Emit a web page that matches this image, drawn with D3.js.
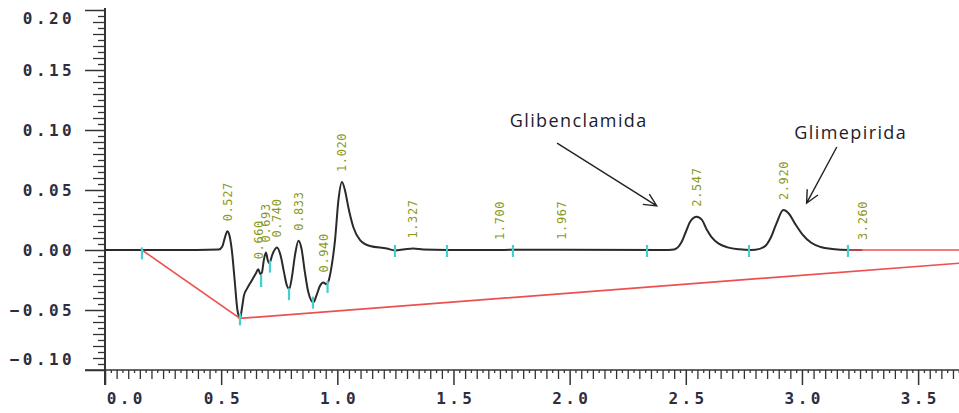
<!DOCTYPE html>
<html>
<head>
<meta charset="utf-8">
<script src="https://cdn.jsdelivr.net/npm/d3@7"></script>
<style>
  html, body { margin: 0; padding: 0; background: #fff; }
  svg { display: block; }
  .tick-label { font-family: "DejaVu Sans Mono", monospace; font-weight: bold; font-size: 16px; fill: #2d2d3d; letter-spacing: 3.4px; }
  .peak-label { font-family: "DejaVu Sans Mono", monospace; font-size: 12px; fill: #8a9a1e; letter-spacing: 0.6px; }
  .note { font-family: "Open Sans", "Noto Sans", sans-serif; font-size: 18px; fill: #1c1c2c; letter-spacing: 1.4px; }
</style>
</head>
<body>
<svg id="chart" width="959" height="413"></svg>
<script>
// Chromatogram trace: [retention time (min), signal (AU)]
const trace = [
  [0.00, 0], [0.30, 0], [0.49, 0.0005], [0.505, 0.003], [0.517, 0.011], [0.527, 0.0156],
  [0.537, 0.011], [0.547, -0.002], [0.558, -0.025], [0.570, -0.050], [0.581, -0.057],
  [0.590, -0.048], [0.598, -0.038], [0.612, -0.032], [0.630, -0.026], [0.648, -0.020],
  [0.660, -0.016], [0.668, -0.020], [0.675, -0.019], [0.684, -0.008], [0.693, -0.002],
  [0.700, -0.008], [0.708, -0.011], [0.720, -0.004], [0.740, 0.002], [0.755, -0.004],
  [0.770, -0.018], [0.782, -0.029], [0.793, -0.0325], [0.805, -0.022], [0.818, -0.004],
  [0.833, 0.0078], [0.846, 0.001], [0.860, -0.018], [0.875, -0.035], [0.897, -0.0436],
  [0.910, -0.038], [0.925, -0.030], [0.940, -0.027], [0.952, -0.0285], [0.960, -0.027],
  [0.975, -0.014], [0.990, 0.008], [1.005, 0.042], [1.020, 0.0567], [1.035, 0.048],
  [1.047, 0.036], [1.069, 0.019], [1.098, 0.0083], [1.141, 0.0033], [1.213, 0.0012],
  [1.248, -0.0004], [1.29, 0.0006], [1.327, 0.0012], [1.37, 0.0004], [1.47, 0],
  [1.967, 0.0002], [2.40, 0], [2.45, 0.0005], [2.48, 0.006], [2.50, 0.015], [2.52, 0.024],
  [2.547, 0.0278], [2.57, 0.025], [2.59, 0.017], [2.61, 0.011], [2.64, 0.0055],
  [2.68, 0.0022], [2.73, 0.0006], [2.78, 0.0001], [2.80, 0.0002], [2.84, 0.003],
  [2.865, 0.010], [2.89, 0.022], [2.92, 0.0333], [2.945, 0.030], [2.97, 0.022],
  [3.00, 0.0135], [3.04, 0.006], [3.08, 0.0025], [3.13, 0.0008], [3.20, 0], [3.26, 0]
];

// Integrated peaks: retention time and apex signal
const peakRT     = [0.527, 0.660, 0.693, 0.740, 0.833, 0.940, 1.020, 1.327, 1.700, 1.967, 2.547, 2.920, 3.260];
const peakHeight = [0.0156, -0.016, -0.002, 0.002, 0.0078, -0.027, 0.0567, 0.0012, 0, 0.0002, 0.0278, 0.0333, 0];

// Integration event marks (peak start / end)
const markT = [0.159, 0.581, 0.672, 0.710, 0.792, 0.895, 0.958, 1.248, 1.472, 1.756, 2.333, 2.772, 3.198];
const markV = [-0.002, -0.057, -0.025, -0.013, -0.036, -0.043, -0.030, 0, 0, 0, 0, 0, 0];

// Drawn baselines
const baselineLow  = [[0.159, 0], [0.581, -0.057], [3.676, -0.011]];
const baselineTail = [[3.198, 0], [3.676, 0]];

// Axis tick labels
const xTicks = [0.0, 0.5, 1.0, 1.5, 2.0, 2.5, 3.0, 3.5];
const yTicks = [-0.10, -0.05, 0.00, 0.05, 0.10, 0.15, 0.20];

// Compound annotations (text centre and arrow, in data units)
const notes = [
  { text: "Glibenclamida", t: 2.036, v: 0.1075, from: [1.946, 0.089], to: [2.375, 0.0367] },
  { text: "Glimepirida",   t: 3.207, v: 0.0975, from: [3.150, 0.0858], to: [3.020, 0.039] }
];

const svg = d3.select("#chart");
const x = d3.scaleLinear().domain([0, 3.676]).range([105, 959]);
const y = d3.scaleLinear().domain([-0.10, 0.20]).range([370, 10]);
const axisColor = "#333";

// Minor ticks
const yMinor = d3.range(-20, 41).filter(i => i % 10 !== 0).map(i => i * 0.005);
const yMid = yMinor.filter(v => Math.round(v / 0.005) % 2 === 0);
const ySmall = yMinor.filter(v => Math.round(v / 0.005) % 2 !== 0);
const xMinor = d3.range(0, 148).filter(i => i % 20 !== 0).map(i => i * 0.025);
const xMid = xMinor.filter(v => Math.round(v / 0.025) % 2 === 0);
const xSmall = xMinor.filter(v => Math.round(v / 0.025) % 2 !== 0);

function minorAxis(axis, vals, size, tr) {
  const g = svg.append("g").attr("transform", tr)
    .call(axis.tickValues(vals).tickSize(size).tickFormat(""));
  g.select(".domain").remove();
  g.selectAll("line").attr("stroke", axisColor).attr("stroke-width", 1.3);
}
minorAxis(d3.axisLeft(y), yMid, 12, "translate(105,0)");
minorAxis(d3.axisLeft(y), ySmall, 7, "translate(105,0)");
minorAxis(d3.axisBottom(x), xMid, 9, "translate(0,370)");
minorAxis(d3.axisBottom(x), xSmall, 3, "translate(0,370)");

// Major y axis
const gy = svg.append("g").attr("transform", "translate(105,0)")
  .call(d3.axisLeft(y).tickValues(yTicks).tickSize(20).tickPadding(10).tickFormat(d3.format(".2f")));
gy.select(".domain").remove();
gy.selectAll("line").attr("stroke", axisColor).attr("stroke-width", 1.5);
gy.selectAll("text").attr("class", "tick-label").attr("font-family", null).attr("font-size", null).attr("fill", null)
  .attr("y", d => Math.min(Math.max(y(d), 18), 359) - y(d));

// Major x axis
const gx = svg.append("g").attr("transform", "translate(0,370)")
  .call(d3.axisBottom(x).tickValues(xTicks).tickSize(15).tickPadding(8).tickFormat(d3.format(".1f")));
gx.select(".domain").remove();
gx.selectAll("line").attr("stroke", axisColor).attr("stroke-width", 1.5);
gx.selectAll("text").attr("class", "tick-label").attr("font-family", null).attr("font-size", null).attr("fill", null)
  .attr("x", d => Math.max(x(d), 124) - x(d) + 1.7);

// Axis lines
svg.append("line").attr("x1", 105).attr("x2", 105).attr("y1", 8).attr("y2", 385)
  .attr("stroke", axisColor).attr("stroke-width", 2);
svg.append("line").attr("x1", 85).attr("x2", 959).attr("y1", y(-0.10)).attr("y2", y(-0.10))
  .attr("stroke", axisColor).attr("stroke-width", 1.6);

// Signal trace
const line = d3.line().x(d => x(d[0])).y(d => y(d[1])).curve(d3.curveMonotoneX);
svg.append("path").datum(trace).attr("d", line)
  .attr("fill", "none").attr("stroke", "#2a2a2a").attr("stroke-width", 2).attr("stroke-linejoin", "round");

// Baselines
const straight = d3.line().x(d => x(d[0])).y(d => y(d[1]));
[baselineLow, baselineTail].forEach(b => {
  svg.append("path").datum(b).attr("d", straight)
    .attr("fill", "none").attr("stroke", "#ee4f4f").attr("stroke-width", 1.6);
});

// Event marks
svg.append("g").selectAll("line").data(markT).join("line")
  .attr("x1", d => x(d)).attr("x2", d => x(d))
  .attr("y1", (d, i) => y(markV[i]) - 5).attr("y2", (d, i) => y(markV[i]) + 7)
  .attr("stroke", "#45cfd0").attr("stroke-width", 2.2);

// Retention time labels
svg.append("g").selectAll("text").data(peakRT).join("text")
  .attr("class", "peak-label")
  .attr("transform", (d, i) => `translate(${x(d)},${y(peakHeight[i]) - 10}) rotate(-90)`)
  .attr("dy", "0.35em")
  .text(d => d3.format(".3f")(d));

// Annotations with open arrowheads
notes.forEach(n => {
  svg.append("text").attr("class", "note")
    .attr("x", x(n.t) + 0.7).attr("y", y(n.v)).attr("dy", "0.35em")
    .attr("text-anchor", "middle").text(n.text);
  const x1 = x(n.from[0]), y1 = y(n.from[1]), x2 = x(n.to[0]), y2 = y(n.to[1]);
  const ang = Math.atan2(y2 - y1, x2 - x1), len = 14, spread = 0.45;
  const head = [ang + Math.PI - spread, ang + Math.PI + spread]
    .map(a => [x2 + len * Math.cos(a), y2 + len * Math.sin(a)]);
  svg.append("path")
    .attr("d", `M${x1},${y1}L${x2},${y2}M${head[0][0]},${head[0][1]}L${x2},${y2}L${head[1][0]},${head[1][1]}`)
    .attr("fill", "none").attr("stroke", "#222").attr("stroke-width", 1.4);
});
</script>
</body>
</html>
